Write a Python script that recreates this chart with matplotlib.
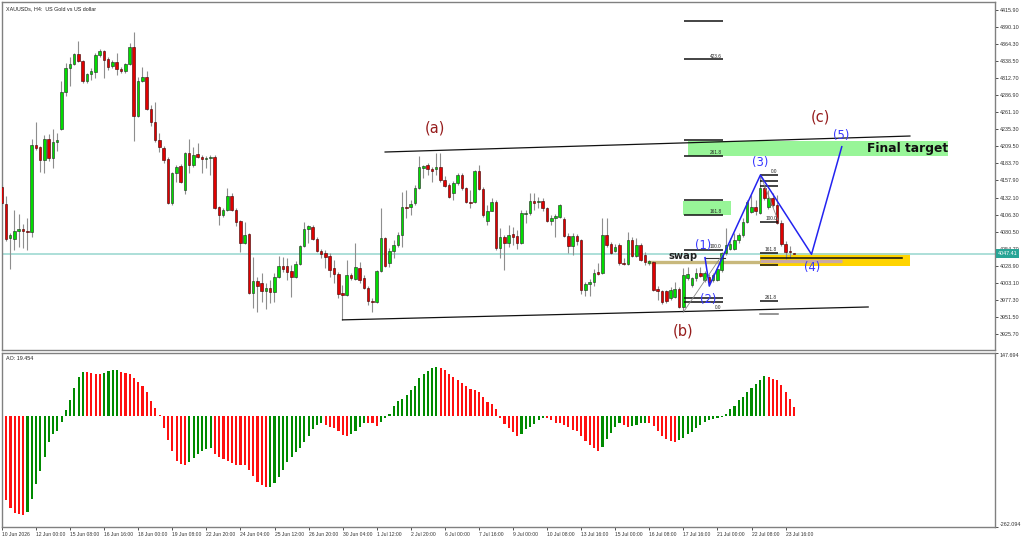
import matplotlib
matplotlib.use("Agg")
import matplotlib.pyplot as plt
from matplotlib.patches import Rectangle
import numpy as np

# ---------------- data ----------------
opens = [4148,4122,4071,4069,4082,4085,4082,4080,4212,4209,
         4189,4221,4192,4216,4236,4292,4328,4334,4349,4339,
         4308,4319,4322,4348,4354,4342,4331,4337,4327,4324,
         4334,4360,4256,4309,4315,4266,4246,4219,4207,4191,
         4124,4169,4180,4143,4200,4181,4198,4194,4191,4192,
         4194,4118,4105,4114,4135,4114,4097,4063,4077,3988,
         4006,4003,3991,3995,3989,4012,4028,4028,4021,4012,
         4031,4059,4085,4088,4069,4051,4048,4044,4025,4016,
         3988,3985,4015,4009,4025,4010,3995,3976,3974,4021,
         4071,4033,4051,4060,4076,4118,4118,4124,4147,4177,
         4181,4176,4175,4179,4159,4151,4139,4154,4166,4147,
         4125,4125,4172,4145,4097,4112,4125,4056,4072,4063,
         4077,4074,4063,4107,4109,4127,4125,4127,4116,4097,
         4101,4103,4100,4074,4059,4074,4068,3992,4001,4004,
         4019,4018,4076,4062,4051,4060,4033,4032,4068,4044,
         4060,4045,4033,4035,3994,3991,3991,3980,3982,3994,
         3967,4010,4000,4010,4018,4007,4012,4007,4007,4022,
         4048,4054,4054,4068,4076,4095,4110,4118,4109,4147,
         4118,4131,4121,4094,4062,4051,4048]
highs = [4151,4135,4079,4113,4107,4092,4101,4221,4246,4210,
         4227,4228,4236,4230,4309,4336,4345,4351,4369,4340,
         4321,4328,4351,4357,4355,4345,4340,4351,4330,4336,
         4366,4383,4315,4330,4324,4272,4277,4230,4210,4194,
         4171,4181,4183,4201,4221,4209,4215,4197,4195,4197,
         4197,4120,4117,4146,4139,4117,4098,4095,4079,4042,
         4012,4018,4003,4007,4018,4044,4042,4041,4030,4036,
         4060,4095,4090,4091,4072,4054,4053,4048,4038,4019,
         4000,4038,4018,4063,4035,4015,3998,3980,4023,4116,
         4073,4056,4068,4080,4141,4144,4128,4151,4195,4182,
         4185,4179,4200,4200,4164,4154,4157,4169,4169,4148,
         4144,4174,4181,4148,4121,4131,4128,4086,4076,4091,
         4088,4083,4114,4114,4139,4139,4133,4131,4118,4106,
         4107,4122,4103,4079,4079,4077,4069,4004,4009,4024,
         4033,4101,4101,4065,4062,4063,4041,4080,4072,4071,
         4063,4050,4038,4036,3998,3992,3992,3997,4004,3997,
         4025,4027,4012,4025,4027,4021,4016,4018,4025,4050,
         4086,4071,4079,4079,4101,4128,4136,4128,4165,4151,
         4144,4139,4136,4098,4066,4059,4048.5]
lows = [4121,4066,4024,4053,4057,4056,4053,4073,4204,4171,
        4169,4188,4177,4203,4234,4286,4301,4333,4337,4305,
        4305,4310,4313,4345,4313,4325,4328,4318,4321,4321,
        4333,4218,4254,4307,4265,4240,4216,4201,4184,4122,
        4121,4155,4154,4137,4169,4178,4192,4169,4177,4166,
        4115,4091,4103,4111,4111,4089,4050,4062,3986,3965,
        3959,3974,3964,3973,3974,4010,4020,4007,3982,4010,
        4030,4057,4063,4068,4050,4041,4025,4012,4003,3980,
        3947,3983,4007,4007,4003,3994,3970,3959,3973,4020,
        4027,4027,4041,4057,4057,4101,4106,4121,4145,4161,
        4166,4155,4166,4156,4148,4131,4128,4151,4144,4124,
        4116,4124,4144,4103,4091,4111,4053,4041,4023,4057,
        4060,4054,4062,4094,4106,4114,4116,4111,4095,4091,
        4072,4101,4072,4048,4045,4060,3986,3983,3983,3998,
        4015,4016,4057,4047,4050,4030,4030,4030,4042,4042,
        4036,4030,4030,3991,3977,3971,3973,3977,3980,3965,
        3960,4007,3997,4006,4012,4004,3998,4004,4006,4019,
        4045,4053,4053,4063,4072,4094,4109,4106,4107,4128,
        4115,4118,4092,4059,4039,4041,4047]
closes = [4124,4069,4076,4082,4085,4082,4080,4212,4207,4189,
          4221,4192,4216,4219,4292,4328,4334,4349,4339,4308,
          4319,4324,4348,4354,4340,4330,4337,4327,4324,4334,
          4360,4256,4309,4315,4266,4246,4219,4209,4189,4124,
          4169,4178,4155,4200,4181,4197,4194,4191,4192,4194,
          4117,4105,4114,4135,4114,4095,4063,4076,3988,4006,
          3998,3991,3995,3989,4012,4028,4024,4020,4012,4031,
          4059,4085,4089,4069,4051,4047,4042,4022,4016,3986,
          3985,4015,4010,4027,4007,3995,3976,3974,4021,4071,
          4028,4051,4060,4076,4118,4117,4123,4147,4178,4180,
          4176,4173,4178,4158,4150,4133,4154,4166,4147,4125,
          4124,4172,4145,4106,4112,4125,4056,4072,4063,4076,
          4072,4063,4109,4109,4127,4124,4127,4116,4097,4101,
          4104,4121,4074,4059,4074,4066,3992,4001,4004,4018,
          4016,4076,4060,4048,4057,4033,4032,4068,4044,4060,
          4038,4035,4036,3992,3991,3974,3976,3992,3994,3967,
          4015,4016,4010,4018,4013,4018,4004,4015,4024,4048,
          4060,4062,4068,4076,4095,4125,4118,4111,4147,4131,
          4131,4121,4094,4062,4050,4050,4047.41]

ao_values = [-183,-199,-217,-228,-231,-233,-226,-195,-161,-131,
             -97,-62,-44,-36,-14,13,37,65,91,102,
             102,101,99,99,101,105,107,107,102,100,
             98,88,79,69,57,34,17,1,-29,-58,
             -82,-107,-113,-117,-108,-100,-90,-84,-78,-77,
             -90,-98,-102,-107,-111,-117,-117,-117,-127,-141,
             -155,-163,-169,-168,-159,-144,-128,-108,-98,-86,
             -76,-62,-48,-32,-22,-16,-22,-26,-30,-36,
             -46,-48,-44,-36,-27,-18,-16,-18,-24,-15,
             -6,5,24,34,39,48,61,71,89,99,
             106,113,115,113,107,99,91,83,77,71,
             63,61,55,44,33,27,15,-6,-19,-30,
             -38,-48,-44,-32,-27,-19,-10,-6,-6,-10,
             -16,-16,-22,-27,-34,-36,-48,-60,-70,-76,
             -82,-73,-54,-40,-27,-18,-22,-26,-24,-22,
             -18,-16,-18,-24,-36,-48,-56,-60,-61,-58,
             -52,-44,-38,-30,-22,-14,-10,-8,-6,-3,
             5,15,24,36,45,55,65,75,85,93,
             91,87,85,73,55,39,21]
ao_color_runs = [("r",6),("g",14),("r",4),("g",4),("r",16),("g",6),("r",13),
                 ("g",13),("r",6),("g",4),("r",3),("g",14),("r",19),("g",6),
                 ("r",13),("g",5),("r",2),("g",4),("r",7),("g",21),("r",7)]

price_ticks = [4415.90,4390.10,4364.30,4338.50,4312.70,4286.90,4261.10,4235.30,
               4209.50,4183.70,4157.90,4132.10,4106.30,4080.50,4054.70,4028.90,
               4003.10,3977.30,3951.50,3925.70]
ao_ticks = [147.694, -262.094]
date_labels = ["10 Jun 2026","12 Jun 00:00","15 Jun 08:00","16 Jun 16:00","18 Jun 00:00",
               "19 Jun 08:00","22 Jun 20:00","24 Jun 04:00","25 Jun 12:00","26 Jun 20:00",
               "30 Jun 04:00","1 Jul 12:00","2 Jul 20:00","6 Jul 00:00","7 Jul 16:00",
               "9 Jul 00:00","10 Jul 08:00","13 Jul 16:00","15 Jul 00:00","16 Jul 08:00",
               "17 Jul 16:00","21 Jul 00:00","22 Jul 08:00","23 Jul 16:00"]
current_price = 4047.41
ao_last = 19.454

# ---------------- figure ----------------
plt.rcParams['font.family'] = ['DejaVu Sans']
SMALL = ['Liberation Sans', 'DejaVu Sans']
W, H = 1024, 539
fig = plt.figure(figsize=(W/100, H/100), dpi=100)
fig.patch.set_facecolor('white')
ax = fig.add_axes([2/W, 1-350/H, 993/W, 348/H])
ax2 = fig.add_axes([2/W, 1-527/H, 993/W, 174/H])

n = len(opens)
x = np.arange(n)
o = np.array(opens, float); h = np.array(highs, float)
l = np.array(lows, float); c = np.array(closes, float)
up = c >= o

ax.set_xlim(0.07, 233.17)
ax.set_ylim(3901.4, 4428.0)
ax2.set_xlim(0.07, 233.17)
ax2.set_ylim(-262.094, 147.694)

GRAY = '#808080'
for a in (ax, ax2):
    for s in a.spines.values():
        s.set_color(GRAY); s.set_linewidth(1.0)

# current price line
ax.axhline(current_price, color='#a6dcd6', lw=1.3, zorder=1)

# boxes (background)
ax.add_patch(Rectangle((161.1, 4195.0), 222.1-161.1, 4218.1-4195.0, color='#98f598', lw=0, zorder=0.5))
ax.add_patch(Rectangle((159.9, 4105.7), 171.2-159.9, 4126.9-4105.7, color='#98f598', lw=0, zorder=0.5))
ax.add_patch(Rectangle((178.0, 4028.5), 213.2-178.0, 4048.7-4028.5, color='#ffd400', lw=0, zorder=0.5))

# swap band
ax.plot([151.5, 178.0], [4035.0, 4035.0], color='#c8b87c', lw=2.4, solid_capstyle='butt', zorder=1.2)
ax.plot([178.0, 197.2], [4036.1, 4036.1], color='#c9a9a4', lw=2.4, solid_capstyle='butt', zorder=1.2)

# candles
ax.vlines(x, l, h, color='#8e8e8e', lw=0.8, zorder=2)
bot = np.minimum(o, c)
hgt = np.maximum(np.abs(c - o), 0.9)
ax.bar(x[up], hgt[up], bottom=bot[up], width=0.6, color='#00dd00',
       edgecolor='#222222', linewidth=0.4, zorder=3)
ax.bar(x[~up], hgt[~up], bottom=bot[~up], width=0.6, color='#e00000',
       edgecolor='#3a0000', linewidth=0.4, zorder=3)

# channel lines
ax.plot([90.0, 213.2], [4201.0, 4225.2], color='#111111', lw=0.9, zorder=4)
ax.plot([80.0, 203.4], [3947.0, 3966.5], color='#111111', lw=0.9, zorder=4)

# fib set 1
fib_kw = dict(color='#111111', lw=1.1, zorder=4, solid_capstyle='butt')
x1a, x1b = 160.2, 169.3
for p in [4399.2, 4341.3, 4219.2, 4195.4, 4128.4, 4105.7, 4052.8, 3979.7, 3974.0]:
    ax.plot([x1a, x1b], [p, p], **fib_kw)
lab_kw = dict(fontsize=3.4, color='#222222', ha='right', va='bottom', zorder=5, family=SMALL)
ax.text(169.0, 4342.5, "423.6", **lab_kw)
ax.text(169.0, 4196.5, "261.8", **lab_kw)
ax.text(169.0, 4106.8, "161.8", **lab_kw)
ax.text(169.0, 4053.8, "100.0", **lab_kw)
ax.text(169.0, 3961.5, "0.0", **lab_kw)

# fib set 2
x2a, x2b = 178.0, 182.2
for p in [4166.2, 4157.6, 4150.0, 4094.7, 4048.7, 4030.1, 3976.0]:
    ax.plot([x2a, x2b], [p, p], **fib_kw)
ax.plot([x2a, x2b], [3956.0, 3956.0], color='#777777', lw=1.1, zorder=4)
ax.text(182.0, 4167.5, "0.0", **lab_kw)
ax.text(182.0, 4096.0, "100.0", **lab_kw)
ax.text(182.0, 4050.0, "161.8", **lab_kw)
ax.text(182.0, 3977.3, "261.8", **lab_kw)

# black line in yellow zone and near (1)
ax.plot([178.2, 211.3], [4041.1, 4041.1], color='#111111', lw=1.1, zorder=4)
ax.plot([165.1, 169.8], [4041.1, 4041.1], color='#333333', lw=0.8, zorder=4)

# thin fib trend lines
ax.plot([160.0, 169.4], [3958.5, 4047.7], color='#888888', lw=0.6, zorder=4)
ax.plot([178.2, 182.2], [4164.7, 4098.1], color='#888888', lw=0.6, zorder=4)

# blue wave
wave_x = [165.1, 166.1, 178.1, 190.1, 197.2]
wave_y = [4041.1, 3998.3, 4166.2, 4046.2, 4209.0]
ax.plot(wave_x, wave_y, color='#2323f0', lw=1.1, zorder=6)

BLUE = '#3535ff'
MAROON = '#961d1d'
wl = dict(fontsize=8.3, color=BLUE, ha='center', va='center', zorder=7)
ax.text(164.6, 4058.8, "(1)", **wl)
ax.text(165.8, 3977.1, "(2)", **wl)
ax.text(178.0, 4184.4, "(3)", **wl)
ax.text(190.2, 4025.5, "(4)", **wl)
ax.text(197.0, 4226.7, "(5)", **wl)
ml = dict(fontsize=10.5, color=MAROON, ha='center', va='center', zorder=7)
ax.text(101.7, 4237.3, "(a)", **ml)
ax.text(159.9, 3930.2, "(b)", **ml)
ax.text(192.1, 4253.5, "(c)", **ml)

ax.text(212.6, 4205.6, "Final target", fontsize=8.8, fontweight='bold', color='#111111',
        ha='center', va='center', zorder=7)
ax.text(159.9, 4043.7, "swap", fontsize=7.2, fontweight='bold', color='#222222',
        ha='center', va='center', zorder=7)

# title
ax.text(0.004, 0.987, "XAUUSDs, H4:  US Gold vs US dollar", transform=ax.transAxes,
        fontsize=3.9, color='#222222', ha='left', va='top', family=SMALL)

# axes ticks main
ax.yaxis.tick_right()
ax.set_yticks(price_ticks)
ax.set_yticklabels([f"{t:.2f}" for t in price_ticks], family=SMALL)
ax.tick_params(axis='y', length=2, width=0.6, pad=1.2, labelsize=3.9,
               colors='#333333', direction='out')
ax.set_xticks([])

# current price label
ax.annotate(f"{current_price:.2f}", xy=(1.0, current_price), xycoords=('axes fraction', 'data'),
            xytext=(2.2, 0), textcoords='offset points', fontsize=3.9, color='white',
            ha='left', va='center', annotation_clip=False, family=SMALL,
            bbox=dict(boxstyle='square,pad=0.3', fc='#28a596', ec='none'))

# ---------------- AO ----------------
ao_colors = []
for col, cnt in ao_color_runs:
    ao_colors += [col] * cnt
cmap = {'g': '#008a00', 'r': '#ff1010'}
ax2.bar(np.arange(len(ao_values)), ao_values, width=0.5,
        color=[cmap[k] for k in ao_colors], linewidth=0)
ax2.text(0.004, 0.985, f"AO: {ao_last:.3f}", transform=ax2.transAxes,
         fontsize=3.9, color='#222222', ha='left', va='top', family=SMALL)

ax2.yaxis.tick_right()
ax2.set_yticks(ao_ticks)
ax2.set_yticklabels([f"{t:.3f}" for t in ao_ticks], family=SMALL)
ax2.tick_params(axis='y', length=2, width=0.6, pad=1.2, labelsize=3.9,
                colors='#333333', direction='out')
labs = ax2.get_yticklabels()
labs[0].set_va('top')
labs[1].set_va('bottom')

ax2.set_xticks(np.arange(0, 8 * len(date_labels), 8))
ax2.set_xticklabels(date_labels, ha='left', family=SMALL)
ax2.tick_params(axis='x', length=2, width=0.6, pad=1.5, labelsize=3.6,
                colors='#333333', direction='out')

fig.savefig("out.png", dpi=100, facecolor='white')
